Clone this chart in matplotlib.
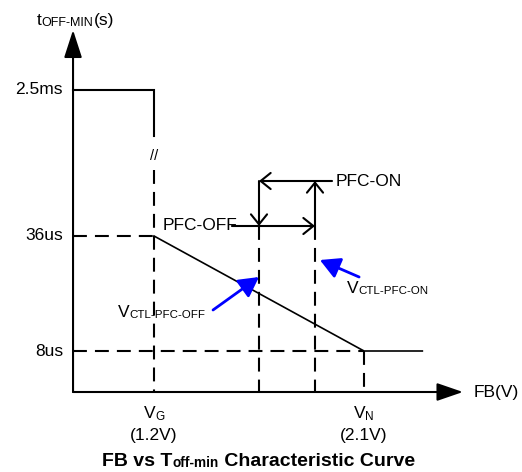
import matplotlib.pyplot as plt
from matplotlib.transforms import offset_copy

plt.rcParams['font.family'] = ['Liberation Sans', 'DejaVu Sans']
plt.rcParams['lines.scale_dashes'] = False

# --- data (x in volts, y in schematic height of the broken time axis) ---
v_g, v_n = 1.2, 2.1
v_pfc_off, v_pfc_on = 1.65, 1.89
v_flat_end = 2.35
t_labels = ['2.5ms', '36us', '8us']
t_levels = [302, 156, 41]
x_names = [('V', 'G', '(1.2V)'), ('V', 'N', '(2.1V)')]
x_marks = [v_g, v_n]

curve_x = [v_g, v_n, v_flat_end]
curve_y = [156, 41, 41]
step_x = [0.853, v_g, v_g]
step_y = [302, 302, 256]

# layout
x0, x_tip = 0.853, 2.524
y_tip = 362
px_per_v = 233.33

fig = plt.figure(figsize=(5.22, 4.72), dpi=100)
ax = fig.add_axes([0, 0, 1, 1])
ax.set_xlim(1.2 - 154 / px_per_v, 1.2 + 368 / px_per_v)
ax.set_ylim(-80, 392)
ax.axis('off')
renderer = fig.canvas.get_renderer()
FS = 12.5


def width_of(s, fs, weight):
    t = ax.text(0, 0, '|' + s + '|', fontsize=fs, fontweight=weight)
    w1 = t.get_window_extent(renderer).width
    t.set_text('||')
    w2 = t.get_window_extent(renderer).width
    t.remove()
    return w1 - w2


def rich(x, y, parts, size=FS, ha='left', weight='normal', trans=None,
         dx=0, dy=0, sub_scale=0.68):
    trans = trans or ax.transData
    items = []
    for s, sub in parts:
        fs = size * sub_scale if sub else size
        t = ax.text(x, y, s, fontsize=fs, fontweight=weight, ha='left',
                    va='baseline')
        items.append((t, width_of(s, fs, weight), sub))
    total = sum(w for _, w, _ in items)
    cur = {'left': 0, 'center': -total / 2, 'right': -total}[ha] + dx
    for t, w, sub in items:
        t.set_transform(offset_copy(trans, fig=fig, x=cur,
                                    y=dy - (1.5 if sub else 0), units='dots'))
        cur += w


# axes with filled arrow heads
ax.annotate('', xy=(x0, y_tip), xytext=(x0, 0),
            arrowprops=dict(arrowstyle='-|>,head_length=1.7,head_width=0.55',
                            lw=1.5, color='k', shrinkA=0, shrinkB=0))
ax.annotate('', xy=(x_tip, 0), xytext=(x0, 0),
            arrowprops=dict(arrowstyle='-|>,head_length=1.6,head_width=0.55',
                            lw=1.5, color='k', shrinkA=0, shrinkB=0))

dash = (0, (10, 5.8))
ax.plot(step_x, step_y, color='k', lw=1.5, solid_joinstyle='miter')
ax.text(v_g, 236, '//', fontsize=10.5, ha='center', va='center')
ax.plot(curve_x, curve_y, color='k', lw=1.2)

# guide lines
ax.plot([x0, v_g], [t_levels[1]] * 2, color='k', lw=1.5, ls=dash)
ax.plot([x0, v_n], [t_levels[2]] * 2, color='k', lw=1.5, ls=dash)
ax.plot([v_g, v_g], [222, 0], color='k', lw=1.5, ls=dash)
ax.plot([v_n, v_n], [t_levels[2], 0], color='k', lw=1.5, ls=dash)
ax.plot([v_pfc_off, v_pfc_off], [166, 0], color='k', lw=1.5, ls=dash)
ax.plot([v_pfc_on, v_pfc_on], [166, 0], color='k', lw=1.5, ls=dash)

# hysteresis arrows
open_head = dict(arrowstyle='->,head_length=0.72,head_width=0.58', lw=1.5,
                 color='k', shrinkA=0, shrinkB=0)
ax.annotate('', xy=(v_pfc_off, 211), xytext=(1.963, 211), arrowprops=open_head)
ax.annotate('', xy=(v_pfc_off, 166), xytext=(v_pfc_off, 211), arrowprops=open_head)
ax.annotate('', xy=(v_pfc_on, 211), xytext=(v_pfc_on, 166), arrowprops=open_head)
ax.annotate('', xy=(v_pfc_on, 166), xytext=(1.534, 166), arrowprops=open_head)
ax.text(1.556, 167, 'PFC-OFF', fontsize=FS, ha='right', va='center')
ax.text(1.98, 211, 'PFC-ON', fontsize=FS, ha='left', va='center')

# blue pointers
blue_head = dict(arrowstyle='-|>,head_length=1.2,head_width=0.65', lw=2,
                 color='#0000ff', shrinkA=0, shrinkB=0)
ax.annotate('', xy=(v_pfc_off, 115), xytext=(1.453, 82), arrowprops=blue_head)
ax.annotate('', xy=(1.911, 132), xytext=(2.079, 115), arrowprops=blue_head)
rich(1.046, 75, [('V', False), ('CTL-PFC-OFF', True)], sub_scale=0.66)
rich(2.027, 99, [('V', False), ('CTL-PFC-ON', True)], sub_scale=0.66)

# tick labels
for lab, lev in zip(t_labels, t_levels):
    ax.annotate(lab, xy=(x0, lev), xytext=(-10, 0), textcoords='offset pixels',
                fontsize=FS, ha='right', va='center')
for (v, sub, val), xm in zip(x_names, x_marks):
    rich(xm, -26, [(v, False), (sub, True)], ha='center')
    ax.text(xm, -48, val, fontsize=FS, ha='center', va='baseline')

rich(x0, 367, [('t', False), ('OFF-MIN', True), ('(s)', False)], dx=-36,
     sub_scale=0.72)
ax.annotate('FB(V)', xy=(x_tip, 0), xytext=(11, 0), textcoords='offset pixels',
            fontsize=FS, ha='left', va='center')

rich(0.495, 0.013, [('FB vs T', False), ('off-min', True),
                    (' Characteristic Curve', False)],
     size=14, ha='center', weight='bold', trans=ax.transAxes, sub_scale=0.7)

fig.savefig('out.png', dpi=100)
